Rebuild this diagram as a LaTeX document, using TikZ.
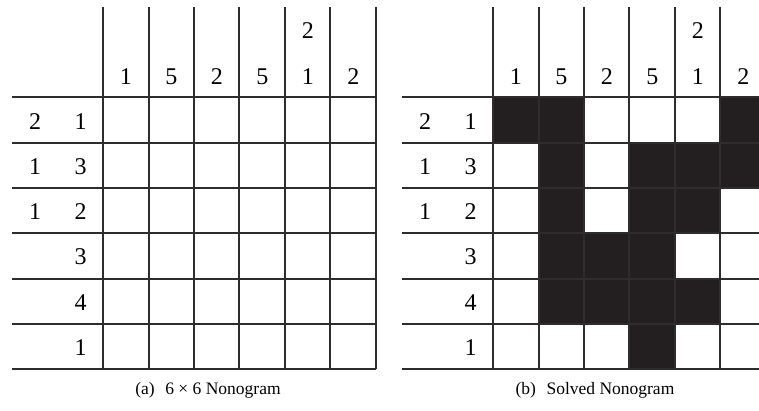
\documentclass[tikz,border=0pt]{standalone}
\usepackage{fontspec}
\setmainfont{Liberation Serif}
\definecolor{gridline}{HTML}{2E2C2D}
\definecolor{cellfill}{HTML}{231F20}
\begin{document}
\begin{tikzpicture}[x=1pt,y=-1pt,
  gl/.style={draw=gridline,line width=2pt},
  filled/.style={fill=cellfill},
  clue/.style={font=\fontsize{24}{24}\selectfont,inner sep=0pt},
  capt/.style={font=\fontsize{17.5}{17.5}\selectfont,inner sep=0pt}]
\useasboundingbox (0,0) rectangle (759,410);
\clip (0,0) rectangle (759,410);
\def\colx{{103,149,194,239,285,330,376}}
\def\rowy{{97,143,188,233,279,324,369}}
% filled cells of the solved grid (row, column)
\foreach \r/\c in {1/1,1/2,1/6,2/2,2/4,2/5,2/6,3/2,3/4,3/5,4/2,4/3,4/4,5/2,5/3,5/4,5/5,6/4}{
  \pgfmathsetmacro{\xa}{390+\colx[\c-1]}
  \pgfmathsetmacro{\xb}{390+\colx[\c]}
  \pgfmathsetmacro{\ya}{\rowy[\r-1]}
  \pgfmathsetmacro{\yb}{\rowy[\r]}
  \fill[filled] (\xa,\ya) rectangle (\xb,\yb);
}
\foreach \ox/\g in {0/a,390/b}{
  \begin{scope}[xshift=\ox]
    % vertical lines
    \foreach \i in {0,...,6}{
      \pgfmathsetmacro{\xx}{\colx[\i]}
      \draw[gl] (\xx,7) -- (\xx,369);
    }
    % horizontal lines
    \foreach \j in {0,...,6}{
      \pgfmathsetmacro{\yy}{\rowy[\j]}
      \draw[gl] (12,\yy) -- (376,\yy);
    }
    % column clues
    \foreach \t [count=\k] in {1,5,2,5,1,2}{
      \node[clue] (\g col\k) at ({80.25+45.5*\k},77) {\t};
    }
    \node[clue] (\g col5top) at ({80.25+45.5*5},31) {2};
    % row clues
    \node[clue] (\g r1a) at (35,121.5) {2};
    \node[clue] (\g r1b) at (80.5,121.5) {1};
    \node[clue] (\g r2a) at (35,166.5) {1};
    \node[clue] (\g r2b) at (80.5,166.5) {3};
    \node[clue] (\g r3a) at (35,212) {1};
    \node[clue] (\g r3b) at (80.5,212) {2};
    \node[clue] (\g r4b) at (80.5,257) {3};
    \node[clue] (\g r5b) at (80.5,302.5) {4};
    \node[clue] (\g r6b) at (80.5,347.5) {1};
  \end{scope}
}
\node[capt,anchor=base] (capa) at (208,394) {(a)\hspace{0.6em}6 × 6 Nonogram};
\node[capt,anchor=base] (capb) at (595,394) {(b)\hspace{0.6em}Solved Nonogram};
\end{tikzpicture}
\end{document}
